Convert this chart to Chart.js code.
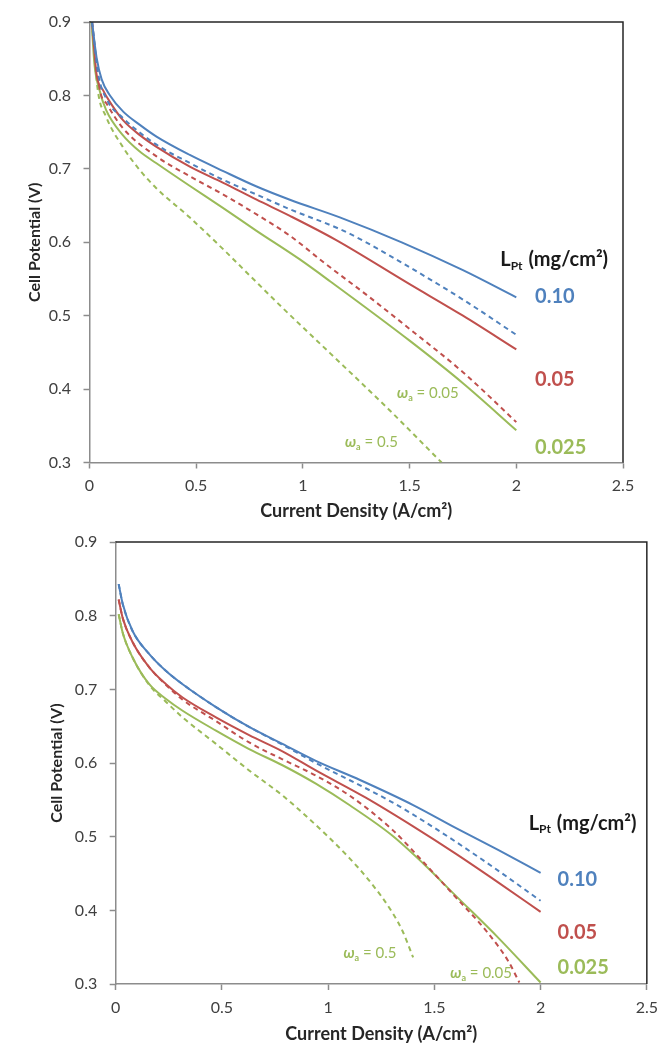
<!DOCTYPE html>
<html>
<head>
<meta charset="utf-8">
<script src="https://cdn.jsdelivr.net/npm/chart.js@4.4.1/dist/chart.umd.min.js"></script>
<style>
  html, body { margin: 0; padding: 0; background: #fff; }
  body { width: 666px; height: 1045px; position: relative; overflow: hidden; }
  .panel { position: absolute; left: 0; width: 666px; }
  #topPanel { top: 0; height: 522px; }
  #bottomPanel { top: 520px; height: 525px; }
</style>
</head>
<body>
<div class="panel" id="topPanel"><canvas id="topChart" width="666" height="522"></canvas></div>
<div class="panel" id="bottomPanel"><canvas id="bottomChart" width="666" height="525"></canvas></div>
<script>
// ---- data: upper panel ----
const topBlueSolidX = [0.012, 0.033, 0.057, 0.096, 0.158, 0.236, 0.314, 0.47, 0.627, 0.783, 0.939, 1.173, 1.463, 1.75, 2.0];
const topBlueSolidY = [0.9, 0.852, 0.822, 0.8, 0.778, 0.76, 0.744, 0.719, 0.697, 0.676, 0.658, 0.634, 0.6, 0.562, 0.525];
const topBlueDashX = [0.012, 0.041, 0.08, 0.158, 0.314, 0.47, 0.627, 0.783, 0.939, 1.173, 1.29, 1.5, 1.75, 2.0];
const topBlueDashY = [0.9, 0.829, 0.795, 0.769, 0.733, 0.708, 0.685, 0.665, 0.645, 0.618, 0.601, 0.566, 0.522, 0.474];
const topRedSolidX = [0.012, 0.033, 0.064, 0.096, 0.158, 0.236, 0.314, 0.47, 0.627, 0.783, 0.939, 1.15, 1.5, 1.75, 2.0];
const topRedSolidY = [0.9, 0.829, 0.807, 0.791, 0.766, 0.746, 0.73, 0.703, 0.681, 0.658, 0.636, 0.604, 0.543, 0.5, 0.454];
const topRedDashX = [0.012, 0.049, 0.08, 0.158, 0.314, 0.47, 0.627, 0.783, 0.939, 1.1, 1.3, 1.5, 1.75, 2.0];
const topRedDashY = [0.9, 0.807, 0.789, 0.755, 0.717, 0.69, 0.665, 0.638, 0.609, 0.572, 0.528, 0.482, 0.423, 0.355];
const topGreenSolidX = [0.01, 0.023, 0.047, 0.078, 0.156, 0.234, 0.312, 0.469, 0.625, 0.781, 0.984, 1.127, 1.5, 1.75, 2.0];
const topGreenSolidY = [0.9, 0.843, 0.807, 0.78, 0.746, 0.724, 0.708, 0.677, 0.647, 0.616, 0.577, 0.547, 0.466, 0.408, 0.344];
const topGreenDashX = [0.01, 0.039, 0.078, 0.156, 0.234, 0.312, 0.469, 0.625, 0.75, 0.9, 1.127, 1.4, 1.65];
const topGreenDashY = [0.9, 0.807, 0.771, 0.73, 0.699, 0.674, 0.634, 0.591, 0.555, 0.512, 0.449, 0.373, 0.3];

// ---- data: lower panel ----
const botBlueSolidX = [0.014, 0.033, 0.08, 0.158, 0.237, 0.315, 0.472, 0.628, 0.785, 0.942, 1.15, 1.4, 1.6, 1.8, 2.0];
const botBlueSolidY = [0.843, 0.816, 0.779, 0.748, 0.725, 0.707, 0.676, 0.649, 0.626, 0.603, 0.577, 0.543, 0.512, 0.482, 0.451];
const botBlueDashX = [0.014, 0.033, 0.08, 0.158, 0.237, 0.315, 0.472, 0.628, 0.785, 0.942, 1.1, 1.3, 1.5, 1.75, 2.0];
const botBlueDashY = [0.843, 0.816, 0.779, 0.748, 0.725, 0.707, 0.676, 0.649, 0.625, 0.6, 0.577, 0.547, 0.512, 0.464, 0.413];
const botRedSolidX = [0.014, 0.033, 0.08, 0.158, 0.237, 0.315, 0.472, 0.628, 0.785, 0.942, 1.177, 1.4, 1.6, 1.8, 2.0];
const botRedSolidY = [0.822, 0.797, 0.764, 0.73, 0.707, 0.689, 0.662, 0.638, 0.616, 0.59, 0.553, 0.514, 0.477, 0.438, 0.398];
const botRedDashX = [0.014, 0.033, 0.08, 0.158, 0.237, 0.315, 0.472, 0.628, 0.785, 0.942, 1.1, 1.3, 1.45, 1.6, 1.75, 1.85, 1.9];
const botRedDashY = [0.822, 0.797, 0.764, 0.73, 0.706, 0.686, 0.657, 0.628, 0.605, 0.583, 0.556, 0.51, 0.465, 0.418, 0.37, 0.33, 0.302];
const botGreenSolidX = [0.014, 0.033, 0.08, 0.158, 0.237, 0.315, 0.472, 0.628, 0.785, 0.942, 1.1, 1.3, 1.45, 1.6, 1.8, 2.0];
const botGreenSolidY = [0.802, 0.777, 0.743, 0.707, 0.687, 0.671, 0.644, 0.619, 0.597, 0.572, 0.543, 0.502, 0.463, 0.42, 0.363, 0.302];
const botGreenDashX = [0.014, 0.033, 0.08, 0.158, 0.237, 0.315, 0.472, 0.628, 0.785, 0.9, 1.0, 1.1, 1.2, 1.3, 1.35, 1.4];
const botGreenDashY = [0.802, 0.777, 0.743, 0.706, 0.683, 0.662, 0.626, 0.59, 0.556, 0.527, 0.5, 0.471, 0.438, 0.398, 0.372, 0.336];

// axis ranges
const xMin = 0, xMax = 2.5, xStep = 0.5;
const yMin = 0.3, yMax = 0.9, yStep = 0.1;

const FONT = "Lato, 'Open Sans', sans-serif";
const BLUE = "#4F81BD";
const RED = "#C0504D";
const GREEN = "#9BBB59";

function line(xs, ys, color, dashed) {
  return {
    data: xs.map((x, i) => ({ x: x, y: ys[i] })),
    borderColor: color,
    borderWidth: 2,
    borderDash: dashed ? [5, 4] : [],
    pointRadius: 0,
    cubicInterpolationMode: "monotone",
    fill: false,
  };
}

// 그래프 테두리 (위, 오른쪽)
const framePlugin = {
  id: "frame",
  afterDatasetsDraw(chart) {
    const { ctx, chartArea: a } = chart;
    ctx.save();
    ctx.strokeStyle = "#262626";
    ctx.lineWidth = 1.5;
    ctx.beginPath();
    ctx.moveTo(a.left, a.top);
    ctx.lineTo(a.right, a.top);
    ctx.lineTo(a.right, a.bottom);
    ctx.stroke();
    ctx.restore();
  },
};

// 곡선 옆 텍스트 (L_Pt, 0.10 ... , ω_a = ...)
const notesPlugin = {
  id: "notes",
  afterDraw(chart, args, opts) {
    const { ctx, scales } = chart;
    ctx.save();
    ctx.textBaseline = "middle";
    ctx.textAlign = "left";
    (opts.items || []).forEach((n) => {
      let x = scales.x.getPixelForValue(n.x);
      const y = scales.y.getPixelForValue(n.y);
      ctx.fillStyle = n.color;
      if (n.kind === "lpt") {
        ctx.font = "bold 20px " + FONT;
        ctx.fillText("L", x, y);
        x += ctx.measureText("L").width;
        ctx.font = "bold 12px " + FONT;
        ctx.fillText("Pt", x, y + 6);
        x += ctx.measureText("Pt").width + 1;
        ctx.font = "bold 20px " + FONT;
        ctx.fillText(" (mg/cm²)", x, y);
      } else if (n.kind === "omega") {
        ctx.font = "italic bold 15px " + FONT;
        ctx.fillText("ω", x, y);
        x += ctx.measureText("ω").width;
        ctx.font = "bold 9px " + FONT;
        ctx.fillText("a", x, y + 5);
        x += ctx.measureText("a").width;
        ctx.font = "15px " + FONT;
        ctx.fillText(" = " + n.text, x, y);
      } else {
        ctx.font = "bold 20px " + FONT;
        ctx.fillText(n.text, x, y);
      }
    });
    ctx.restore();
  },
};

function makeChart(id, datasets, o) {
  return new Chart(document.getElementById(id).getContext("2d"), {
    type: "line",
    data: { datasets: datasets },
    options: {
      responsive: false,
      animation: false,
      events: [],
      layout: { padding: { top: o.padTop, right: o.padRight, bottom: 0, left: 0 } },
      plugins: {
        legend: { display: false },
        tooltip: { enabled: false },
        notes: { items: o.notes },
      },
      scales: {
        x: {
          type: "linear",
          min: xMin,
          max: xMax,
          ticks: {
            stepSize: xStep,
            padding: 8,
            color: "#404040",
            font: { family: FONT, size: 16 },
            callback: (v) => String(v),
          },
          grid: { drawOnChartArea: false, tickLength: 6, tickColor: "#8c8c8c", tickWidth: 1.5 },
          border: { color: "#8c8c8c", width: 1.5 },
          title: {
            display: true,
            text: "Current Density (A/cm²)",
            color: "#262626",
            font: { family: FONT, size: 18, weight: "bold" },
            padding: { top: 0, bottom: o.xTitlePad },
          },
          afterFit(s) { s.height = o.xHeight; },
        },
        y: {
          min: yMin,
          max: yMax,
          ticks: {
            stepSize: yStep,
            padding: 12.5,
            color: "#404040",
            font: { family: FONT, size: 16 },
            callback: (v) => Number(v).toFixed(1),
          },
          grid: { drawOnChartArea: false, tickLength: 6, tickColor: "#8c8c8c", tickWidth: 1.5 },
          border: { color: "#8c8c8c", width: 1.5 },
          title: {
            display: true,
            text: "Cell Potential (V)",
            color: "#262626",
            font: { family: FONT, size: 16, weight: "bold" },
            padding: { top: o.yTitlePad, bottom: 0 },
          },
          afterFit(s) { s.width = o.yWidth; },
        },
      },
    },
    plugins: [framePlugin, notesPlugin],
  });
}

makeChart(
  "topChart",
  [
    line(topBlueSolidX, topBlueSolidY, BLUE, false),
    line(topBlueDashX, topBlueDashY, BLUE, true),
    line(topRedSolidX, topRedSolidY, RED, false),
    line(topRedDashX, topRedDashY, RED, true),
    line(topGreenSolidX, topGreenSolidY, GREEN, false),
    line(topGreenDashX, topGreenDashY, GREEN, true),
  ],
  {
    padTop: 17.5, padRight: 43, xHeight: 59.5, yWidth: 89.5, xTitlePad: 0, yTitlePad: 25,
    notes: [
      { kind: "lpt", x: 1.925, y: 0.576, color: "#1a1a1a" },
      { x: 2.088, y: 0.526, text: "0.10", color: BLUE },
      { x: 2.088, y: 0.413, text: "0.05", color: RED },
      { x: 2.088, y: 0.321, text: "0.025", color: GREEN },
      { kind: "omega", x: 1.441, y: 0.395, text: "0.05", color: GREEN },
      { kind: "omega", x: 1.197, y: 0.328, text: "0.5", color: GREEN },
    ],
  }
);

makeChart(
  "bottomChart",
  [
    line(botBlueSolidX, botBlueSolidY, BLUE, false),
    line(botBlueDashX, botBlueDashY, BLUE, true),
    line(botRedSolidX, botRedSolidY, RED, false),
    line(botRedDashX, botRedDashY, RED, true),
    line(botGreenSolidX, botGreenSolidY, GREEN, false),
    line(botGreenDashX, botGreenDashY, GREEN, true),
  ],
  {
    padTop: 21, padRight: 18.7, xHeight: 61, yWidth: 115.7, xTitlePad: 0, yTitlePad: 47,
    notes: [
      { kind: "lpt", x: 1.944, y: 0.518, color: "#1a1a1a" },
      { x: 2.08, y: 0.442, text: "0.10", color: BLUE },
      { x: 2.08, y: 0.37, text: "0.05", color: RED },
      { x: 2.08, y: 0.323, text: "0.025", color: GREEN },
      { kind: "omega", x: 1.072, y: 0.342, text: "0.5", color: GREEN },
      { kind: "omega", x: 1.575, y: 0.315, text: "0.05", color: GREEN },
    ],
  }
);
</script>
</body>
</html>
